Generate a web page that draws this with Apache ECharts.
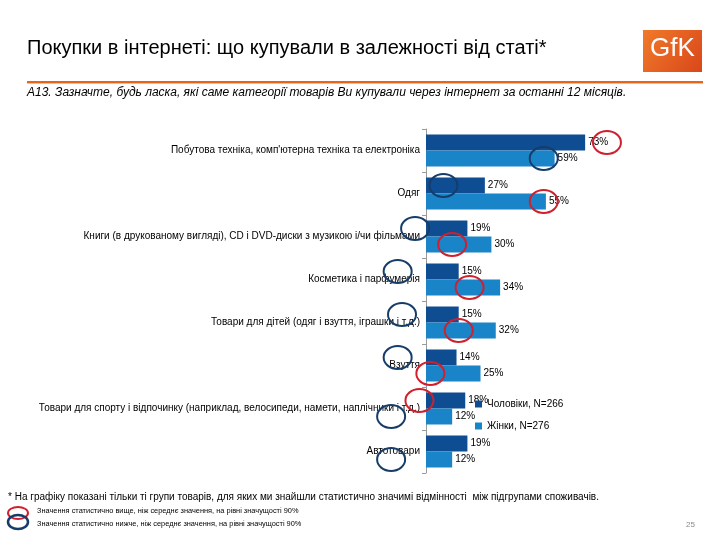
<!DOCTYPE html>
<html><head><meta charset="utf-8">
<script src="https://cdn.jsdelivr.net/npm/echarts@6/dist/echarts.min.js"></script>
<style>html,body{margin:0;padding:0;background:#fff}#c{width:720px;height:540px}</style>
</head><body><div id="c"></div>
<script>
const categories = [
  "Побутова техніка, комп'ютерна техніка та електроніка",
  "Одяг",
  "Книги (в друкованому вигляді), CD і DVD-диски з музикою і/чи фільмами",
  "Косметика і парфумерія",
  "Товари для дітей (одяг і взуття, іграшки і т.д.)",
  "Взуття",
  "Товари для спорту і відпочинку (наприклад, велосипеди, намети, наплічники і т.д.)",
  "Автотовари"
];
const seriesNames = ["Чоловіки, N=266", "Жінки, N=276"];
const menValues = [73, 27, 19, 15, 15, 14, 18, 19];
const womenValues = [59, 55, 30, 34, 32, 25, 12, 12];
// significance marks: [category index, series index (0 men / 1 women), value-axis position]
const highMarks = [[0,0,83],[1,1,54],[2,1,12],[3,1,20],[4,1,15],[5,1,2],[6,0,-3]];
const lowMarks = [[0,1,54],[1,0,8],[2,0,-5],[3,0,-13],[4,0,-11],[5,0,-13],[6,1,-16],[7,1,-16]];

const titleText = "Покупки в інтернеті: що купували в залежності від статі*";
const subtitleText = "А13. Зазначте, будь ласка, які саме категорії товарів Ви купували через інтернет за останні 12 місяців.";
const footnoteText = "* На графіку показані тільки ті групи товарів, для яких ми знайшли статистично значимі відмінності  між підгрупами споживачів.";
const legendHigh = "Значення статистично вище, ніж середнє значення, на рівні значущості 90%";
const legendLow = "Значення статистично нижче, ніж середнє значення, на рівні значущості 90%";
const pageNo = "25";

const MEN = '#0F4D92', WOMEN = '#1A84C8', RED = '#D0202E', NAVY = '#163D6A';
const FONT = "'Liberation Sans', Arial, sans-serif";
const NARROW = "'Liberation Sans Narrow', 'Arial Narrow', 'Liberation Sans', sans-serif";

const chart = echarts.init(document.getElementById('c'), null, {renderer: 'canvas'});
const barLabel = {show: true, position: 'right', distance: 3, formatter: '{c}%', fontSize: 10, color: '#000', fontFamily: FONT};
chart.setOption({
  animation: false,
  backgroundColor: '#fff',
  grid: {left: 426, top: 129, width: 218, height: 344, containLabel: false},
  xAxis: {type: 'value', min: 0, max: 100, show: false},
  yAxis: {
    type: 'category', data: categories, inverse: true,
    axisLine: {show: true, lineStyle: {color: '#9a9a9a', width: 1}},
    axisTick: {show: true, length: 4, lineStyle: {color: '#9a9a9a'}},
    axisLabel: {fontSize: 10, color: '#000', margin: 6, fontFamily: FONT}
  },
  legend: {
    orient: 'vertical', left: 470, top: 394, itemWidth: 7, itemHeight: 7, itemGap: 12,
    icon: 'rect', textStyle: {fontSize: 10, color: '#000', fontFamily: FONT},
    data: seriesNames
  },
  series: [
    {name: seriesNames[0], type: 'bar', data: menValues, barWidth: 16, barGap: '0%', itemStyle: {color: MEN}, label: barLabel},
    {name: seriesNames[1], type: 'bar', data: womenValues, barWidth: 16, barGap: '0%', itemStyle: {color: WOMEN}, label: barLabel}
  ]
});

const g = [];
// header
g.push({type: 'text', left: 27, top: 38, style: {text: titleText, font: "20px " + NARROW, fill: '#000'}});
g.push({type: 'rect', shape: {x: 643, y: 30, width: 59, height: 42}, style: {fill: new echarts.graphic.LinearGradient(0,0,1,1,[{offset:0,color:'#F07A2A'},{offset:1,color:'#D9471A'}])}});
g.push({type: 'text', left: 650, top: 36, style: {text: 'GfK', font: "26px " + NARROW, fill: '#fff'}});
g.push({type: 'rect', shape: {x: 27, y: 81, width: 676, height: 2}, style: {fill: '#E8641B'}});
g.push({type: 'rect', shape: {x: 27, y: 83, width: 676, height: 1}, style: {fill: '#c9c9c9'}});
g.push({type: 'text', left: 27, top: 87, style: {text: subtitleText, font: "italic 12px " + FONT, fill: '#000'}});
// footer
g.push({type: 'text', left: 8, top: 492, style: {text: footnoteText, font: "10px " + FONT, fill: '#000'}});
g.push({type: 'ellipse', shape: {cx: 18, cy: 513, rx: 10, ry: 6}, style: {fill: 'none', stroke: RED, lineWidth: 2}});
g.push({type: 'ellipse', shape: {cx: 18, cy: 522, rx: 10, ry: 7}, style: {fill: 'none', stroke: NAVY, lineWidth: 2.5}});
g.push({type: 'text', left: 37, top: 507, style: {text: legendHigh, font: "7.4px " + FONT, fill: '#000'}});
g.push({type: 'text', left: 37, top: 520, style: {text: legendLow, font: "7.4px " + FONT, fill: '#000'}});
g.push({type: 'text', left: 686, top: 521, style: {text: pageNo, font: "8px " + FONT, fill: '#888'}});
// significance circles positioned through the chart's scales
function mark(m, color) {
  const p = chart.convertToPixel({gridIndex: 0}, [m[2], m[0]]);
  const cy = p[1] + (m[1] === 0 ? -8 : 8);
  g.push({type: 'ellipse', z: 100, shape: {cx: p[0], cy: cy, rx: 14, ry: 11.5}, style: {fill: 'none', stroke: color, lineWidth: 2}});
}
highMarks.forEach(m => mark(m, RED));
lowMarks.forEach(m => mark(m, NAVY));
chart.setOption({graphic: g});
</script></body></html>
